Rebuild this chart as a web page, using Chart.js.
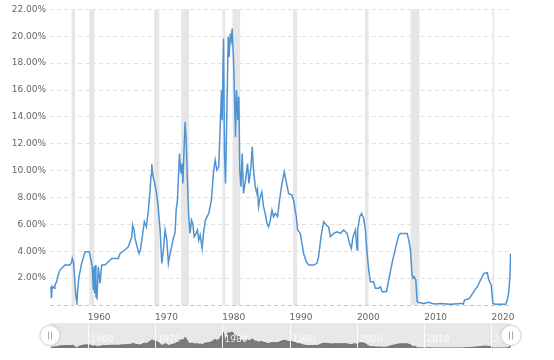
<!DOCTYPE html>
<html>
<head>
<meta charset="utf-8">
<script src="https://cdn.jsdelivr.net/npm/chart.js@4.4.0/dist/chart.umd.min.js"></script>
<style>
  body { margin: 0; background: #fff; }
  #wrap { position: relative; width: 554px; height: 360px; }
  #main { position: absolute; left: 0; top: 0; }
  #nav { position: absolute; left: 0; top: 318px; }
</style>
</head>
<body>
<div id="wrap">
  <canvas id="main" width="554" height="330"></canvas>
  <canvas id="nav" width="554" height="42"></canvas>
</div>
<script>
// Fed funds rate (decimal year, percent)
const years = [
  1954.54, 1954.62, 1954.73, 1955.03, 1955.13, 1955.39, 1955.54, 1955.88, 1956.37, 1956.62,
  1957.37, 1957.62, 1957.71, 1957.92, 1958.11, 1958.26, 1958.41, 1958.51, 1958.70, 1959.11,
  1959.60, 1960.24, 1960.49, 1960.68, 1960.83, 1960.94, 1961.04, 1961.13, 1961.23, 1961.38,
  1961.58, 1961.83, 1962.08, 1962.57, 1963.57, 1964.55, 1964.81, 1965.55, 1966.04, 1966.55,
  1966.68, 1966.89, 1967.04, 1967.34, 1967.63, 1967.83, 1968.12, 1968.42, 1968.72, 1969.02,
  1969.27, 1969.42, 1969.52, 1969.72, 1969.91, 1970.16, 1970.42, 1970.76, 1971.01, 1971.25,
  1971.50, 1971.76, 1971.99, 1972.25, 1972.50, 1972.74, 1972.99, 1973.14, 1973.34, 1973.64,
  1973.85, 1974.03, 1974.14, 1974.33, 1974.48, 1974.63, 1974.82, 1975.01, 1975.22, 1975.42,
  1975.61, 1975.82, 1976.12, 1976.31, 1976.51, 1976.71, 1977.01, 1977.20, 1977.50, 1977.99,
  1978.38, 1978.68, 1978.94, 1979.19, 1979.48, 1979.69, 1979.88, 1979.98, 1980.18, 1980.33,
  1980.48, 1980.68, 1980.88, 1981.03, 1981.18, 1981.32, 1981.47, 1981.67, 1981.82, 1981.96,
  1982.11, 1982.31, 1982.46, 1982.60, 1982.77, 1982.96, 1983.15, 1983.45, 1983.75, 1983.96,
  1984.26, 1984.45, 1984.64, 1984.90, 1985.15, 1985.24, 1985.39, 1985.64, 1985.88, 1986.13,
  1986.38, 1986.64, 1986.87, 1987.13, 1987.38, 1987.62, 1987.87, 1988.21, 1988.51, 1988.87,
  1989.21, 1989.51, 1989.85, 1990.36, 1990.59, 1991.00, 1991.19, 1991.59, 1991.84, 1992.08,
  1992.48, 1992.83, 1993.57, 1994.06, 1994.30, 1994.67, 1995.06, 1995.46, 1995.80, 1996.06,
  1996.55, 1997.05, 1997.54, 1998.03, 1998.54, 1998.91, 1999.18, 1999.43, 1999.78, 2000.03,
  2000.12, 2000.42, 2000.71, 2001.01, 2001.26, 2001.52, 2001.76, 2002.01, 2002.48, 2002.75,
  2003.24, 2003.50, 2003.75, 2004.39, 2004.73, 2005.22, 2005.73, 2006.22, 2006.47, 2007.47,
  2007.71, 2007.96, 2008.21, 2008.35, 2008.51, 2008.75, 2008.96, 2009.20, 2009.94, 2010.68,
  2011.43, 2012.43, 2013.91, 2015.40, 2015.80, 2016.00, 2016.64, 2016.89, 2017.38, 2017.89,
  2018.38, 2018.87, 2019.37, 2019.61, 2019.96, 2020.21, 2020.61, 2022.10, 2022.35, 2022.54,
  2022.74, 2022.84
];
const rates = [
  1.36, 0.50, 1.40, 1.24, 1.49, 1.73, 2.10, 2.60, 2.85, 2.97,
  2.97, 3.20, 3.47, 3.10, 1.60, 0.62, 0.13, 1.10, 2.10, 3.10,
  3.96, 3.96, 3.35, 2.85, 1.12, 2.85, 0.87, 2.97, 0.62, 0.50,
  2.85, 1.61, 2.97, 2.97, 3.47, 3.47, 3.84, 4.09, 4.34, 5.08,
  5.95, 5.58, 4.96, 4.34, 3.84, 4.09, 5.08, 6.20, 5.82, 7.06,
  8.55, 9.67, 10.48, 9.54, 9.17, 8.55, 7.56, 5.58, 3.10, 4.09,
  5.58, 4.83, 3.10, 3.84, 4.40, 5.00, 5.40, 7.06, 7.81, 11.28,
  9.79, 10.53, 9.05, 11.77, 13.63, 12.27, 9.29, 6.57, 5.33, 6.32,
  6.07, 5.08, 5.33, 5.58, 4.83, 5.20, 4.21, 5.33, 6.32, 6.82,
  7.81, 9.79, 10.78, 10.04, 10.29, 13.25, 15.99, 13.75, 19.83, 11.28,
  9.05, 14.25, 19.95, 18.46, 20.20, 19.70, 20.57, 18.20, 15.50, 12.50,
  16.00, 13.75, 15.50, 10.04, 8.80, 11.28, 8.30, 9.29, 10.53, 9.05,
  10.29, 11.77, 10.04, 8.80, 8.30, 8.55, 7.30, 8.05, 8.42, 7.30,
  6.82, 6.07, 5.82, 6.30, 7.06, 6.57, 6.82, 6.57, 7.81, 9.05,
  9.91, 9.17, 8.30, 8.18, 7.81, 6.57, 5.58, 5.33, 4.59, 3.84,
  3.22, 2.97, 2.97, 3.10, 3.59, 5.08, 6.20, 5.95, 5.82, 5.08,
  5.33, 5.45, 5.33, 5.58, 5.33, 4.59, 4.21, 5.08, 5.58, 4.09,
  5.58, 6.57, 6.82, 6.45, 5.58, 3.84, 2.60, 1.73, 1.73, 1.24,
  1.24, 1.36, 0.99, 0.99, 1.86, 3.10, 4.21, 5.20, 5.33, 5.33,
  4.83, 4.09, 2.23, 2.00, 2.10, 1.86, 0.25, 0.18, 0.12, 0.20,
  0.07, 0.12, 0.05, 0.12, 0.07, 0.37, 0.45, 0.62, 0.99, 1.36,
  1.86, 2.35, 2.40, 1.86, 1.49, 0.12, 0.05, 0.05, 0.37, 0.87,
  2.10, 3.84
];
// shaded recessions
const recessionStart = [1957.62, 1960.24, 1969.87, 1973.88, 1980.03, 1981.52, 1990.51, 2001.22, 2007.96, 2020.16];
const recessionEnd   = [1958.11, 1960.98, 1970.65, 1975.07, 1980.43, 1982.66, 1991.10, 2001.73, 2009.30, 2020.31];

const xTicks = [1960, 1970, 1980, 1990, 2000, 2010, 2020];
const yTicks = [0, 2, 4, 6, 8, 10, 12, 14, 16, 18, 20, 22];
const xMin = 1954.4, xMax = 2022.9;

const points = years.map((y, i) => ({ x: y, y: rates[i] }));
const font = { family: '"DejaVu Sans", Verdana, sans-serif', size: 9 };

const recessionPlugin = {
  id: 'recessions',
  beforeDatasetsDraw(chart) {
    const { ctx, chartArea: a, scales: { x } } = chart;
    ctx.save();
    ctx.fillStyle = '#e6e6e6';
    recessionStart.forEach((s, i) => {
      const x0 = x.getPixelForValue(s), x1 = x.getPixelForValue(recessionEnd[i]);
      ctx.fillRect(x0, a.top, Math.max(x1 - x0, 1.5), a.bottom - a.top);
    });
    ctx.restore();
  }
};

new Chart(document.getElementById('main'), {
  type: 'line',
  data: {
    datasets: [{
      data: points,
      borderColor: '#4f93d3',
      borderWidth: 1.5,
      pointRadius: 0,
      tension: 0,
      fill: false
    }]
  },
  options: {
    responsive: false,
    animation: false,
    parsing: false,
    layout: { padding: { top: 9, right: 43, left: 0, bottom: 8 } },
    plugins: { legend: { display: false }, tooltip: { enabled: false } },
    scales: {
      x: {
        type: 'linear',
        min: xMin,
        max: xMax,
        afterBuildTicks: s => { s.ticks = xTicks.map(v => ({ value: v })); },
        afterFit: s => { s.height = 17; },
        grid: { display: false, drawTicks: false },
        border: { display: false },
        ticks: { align: 'start', padding: 7, color: '#666', font, callback: v => String(v) }
      },
      y: {
        min: 0,
        max: 22,
        afterBuildTicks: s => { s.ticks = yTicks.map(v => ({ value: v })); },
        afterFit: s => { s.width = 50; },
        grid: {
          drawTicks: false,
          color: c => c.tick && c.tick.value === 0 ? '#c8c8c8' : '#e0e0e0'
        },
        border: { display: false, dash: [4, 3] },
        ticks: { padding: 4, color: '#666', font, callback: v => v === 0 ? '' : v.toFixed(2) + '%' }
      }
    }
  },
  plugins: [recessionPlugin]
});

// navigator strip under the chart
const navigatorPlugin = {
  id: 'navigatorDecor',
  beforeDraw(chart) {
    const { ctx, chartArea: a } = chart;
    ctx.save();
    ctx.fillStyle = '#e8e8e8';
    ctx.fillRect(a.left, a.top, a.right - a.left, a.bottom - a.top);
    ctx.restore();
  },
  afterDatasetsDraw(chart) {
    const { ctx, chartArea: a, scales: { x } } = chart;
    ctx.save();
    ctx.strokeStyle = 'rgba(255,255,255,0.9)';
    ctx.fillStyle = 'rgba(255,255,255,0.85)';
    ctx.lineWidth = 1;
    ctx.font = '9px "DejaVu Sans", Verdana, sans-serif';
    ctx.textBaseline = 'middle';
    xTicks.forEach(v => {
      const px = Math.round(x.getPixelForValue(v)) + 0.5;
      ctx.beginPath();
      ctx.moveTo(px, a.top);
      ctx.lineTo(px, a.bottom);
      ctx.stroke();
      ctx.fillText(String(v), px + 2, a.top + 17);
    });
    const cy = (a.top + a.bottom) / 2;
    [a.left, a.right].forEach(px => {
      ctx.beginPath();
      ctx.arc(px, cy, 10, 0, Math.PI * 2);
      ctx.fillStyle = '#fff';
      ctx.shadowColor = 'rgba(0,0,0,0.15)';
      ctx.shadowBlur = 3;
      ctx.fill();
      ctx.shadowBlur = 0;
      ctx.strokeStyle = '#d6d6d6';
      ctx.stroke();
      ctx.strokeStyle = '#aaa';
      ctx.beginPath();
      ctx.moveTo(px - 1.5, cy - 4); ctx.lineTo(px - 1.5, cy + 4);
      ctx.moveTo(px + 1.5, cy - 4); ctx.lineTo(px + 1.5, cy + 4);
      ctx.stroke();
    });
    ctx.restore();
  }
};

new Chart(document.getElementById('nav'), {
  type: 'line',
  data: {
    datasets: [{
      data: points,
      borderColor: '#6e6e6e',
      backgroundColor: '#7a7a7a',
      borderWidth: 1,
      pointRadius: 0,
      tension: 0,
      fill: 'origin'
    }]
  },
  options: {
    responsive: false,
    animation: false,
    parsing: false,
    layout: { padding: { top: 5, right: 43, left: 50, bottom: 12 } },
    plugins: { legend: { display: false }, tooltip: { enabled: false } },
    scales: {
      x: { type: 'linear', min: xMin, max: xMax, display: false },
      y: { min: 0, max: 32, display: false }
    }
  },
  plugins: [navigatorPlugin]
});
</script>
</body>
</html>
